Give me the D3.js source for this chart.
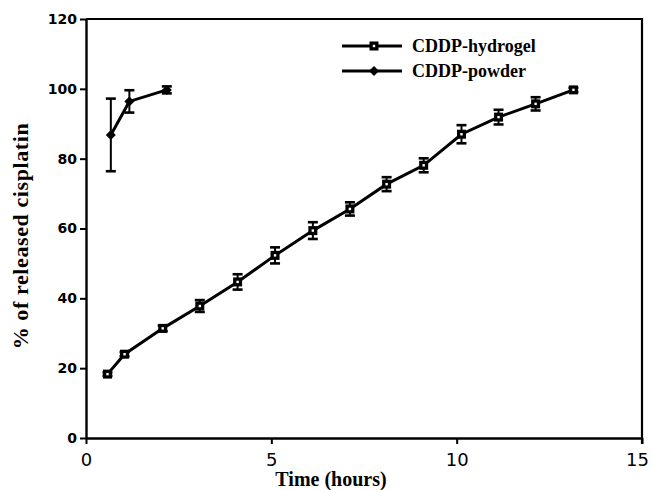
<!DOCTYPE html>
<html><head><meta charset="utf-8">
<script src="https://cdn.jsdelivr.net/npm/d3@7"></script>
<style>body{margin:0;background:#fff}svg{display:block}</style>
</head><body><svg id="c" width="653" height="490"></svg>
<script>
const hydrogelTime  = [0.58, 1.04, 2.07, 3.07, 4.09, 5.1, 6.12, 7.12, 8.11, 9.11, 10.13, 11.13, 12.13, 13.15];
const hydrogelValue = [18.3, 24.0, 31.4, 37.8, 44.7, 52.3, 59.4, 65.6, 72.7, 78.1, 87.0, 91.9, 95.7, 99.7];
const hydrogelError = [0.5, 0.6, 0.8, 1.7, 2.2, 2.3, 2.4, 1.9, 2.0, 2.0, 2.6, 2.1, 1.9, 0.6];
const powderTime  = [0.67, 1.17, 2.18];
const powderValue = [86.8, 96.4, 99.7];
const powderError = [10.4, 3.2, 1.0];
const xTicks = [0, 5, 10, 15];
const yTicks = [0, 20, 40, 60, 80, 100, 120];
const seriesNames = ["CDDP-hydrogel", "CDDP-powder"];

const svg = d3.select("#c");
const x = d3.scaleLinear().domain([0, 15]).range([86, 642]);
const y = d3.scaleLinear().domain([0, 120]).range([438, 19]);

// frame (top & right)
svg.append("path").attr("d", `M${x(0)},${y(120)}H${x(15)}V${y(0) + 6}`)
  .attr("fill", "none").attr("stroke", "#000").attr("stroke-width", 2.2);

const xa = svg.append("g").attr("transform", `translate(0,${y(0)})`)
  .call(d3.axisBottom(x).tickValues(xTicks).tickSize(6).tickPadding(9).tickSizeOuter(0));
xa.select(".domain").attr("stroke-width", 2.6);
xa.selectAll(".tick line").attr("stroke-width", 2);
xa.selectAll("text").attr("font-family", "DejaVu Sans").attr("font-size", 18).attr("fill", "#000")
  .attr("dx", d => d === 15 ? -5 : 0);

const ya = svg.append("g").attr("transform", `translate(${x(0)},0)`)
  .call(d3.axisLeft(y).tickValues(yTicks).tickSize(6).tickPadding(3).tickSizeOuter(0));
ya.select(".domain").attr("stroke-width", 2.4);
ya.selectAll(".tick line").attr("stroke-width", 2);
ya.selectAll("text").attr("font-family", "DejaVu Sans").attr("font-weight", "bold").attr("font-size", 14).attr("fill", "#000");

// titles
svg.append("text").attr("x", 331).attr("y", 486).attr("text-anchor", "middle")
  .attr("font-family", "Liberation Serif").attr("font-weight", "bold").attr("font-size", 20)
  .text("Time (hours)");
svg.append("text").attr("transform", "translate(28,236) rotate(-90)").attr("text-anchor", "middle")
  .attr("font-family", "Liberation Serif").attr("font-weight", "bold").attr("font-size", 22)
  .attr("letter-spacing", 0.6)
  .text("% of released cisplatin");

function drawSeries(ts, vs, es, marker) {
  const pts = ts.map((t, i) => ({t, v: vs[i], e: es[i]}));
  const g = svg.append("g");
  g.append("path").attr("d", d3.line().x(d => x(d.t)).y(d => y(d.v))(pts))
    .attr("fill", "none").attr("stroke", "#000").attr("stroke-width", 3);
  const eb = g.selectAll(".eb").data(pts).enter().append("g");
  eb.append("line").attr("x1", d => x(d.t)).attr("x2", d => x(d.t))
    .attr("y1", d => y(d.v - d.e)).attr("y2", d => y(d.v + d.e)).attr("stroke", "#000").attr("stroke-width", 2);
  [-1, 1].forEach(s => eb.append("line")
    .attr("x1", d => x(d.t) - 5).attr("x2", d => x(d.t) + 5)
    .attr("y1", d => y(d.v + s * d.e)).attr("y2", d => y(d.v + s * d.e))
    .attr("stroke", "#000").attr("stroke-width", 2.6));
  pts.forEach(d => marker(g, x(d.t), y(d.v)));
}
function squareMarker(g, cx, cy) {
  g.append("rect").attr("x", cx - 4.5).attr("y", cy - 4.5).attr("width", 9).attr("height", 9).attr("fill", "#000");
  g.append("rect").attr("x", cx - 1.2).attr("y", cy - 1.2).attr("width", 2.4).attr("height", 2.4).attr("fill", "#fff");
}
function diamondMarker(g, cx, cy) {
  g.append("path").attr("d", `M${cx},${cy - 5}L${cx + 5},${cy}L${cx},${cy + 5}L${cx - 5},${cy}Z`).attr("fill", "#000");
}
drawSeries(hydrogelTime, hydrogelValue, hydrogelError, squareMarker);
drawSeries(powderTime, powderValue, powderError, diamondMarker);

// legend
const lg = svg.append("g");
[[squareMarker, 46], [diamondMarker, 71]].forEach(([m, ly], i) => {
  lg.append("line").attr("x1", 342).attr("x2", 402).attr("y1", ly).attr("y2", ly).attr("stroke", "#000").attr("stroke-width", 3);
  m(lg, 374, ly);
  lg.append("text").attr("x", 412).attr("y", ly + 6).attr("font-family", "Liberation Serif")
    .attr("font-weight", "bold").attr("font-size", 18).text(seriesNames[i]);
});
</script></body></html>
